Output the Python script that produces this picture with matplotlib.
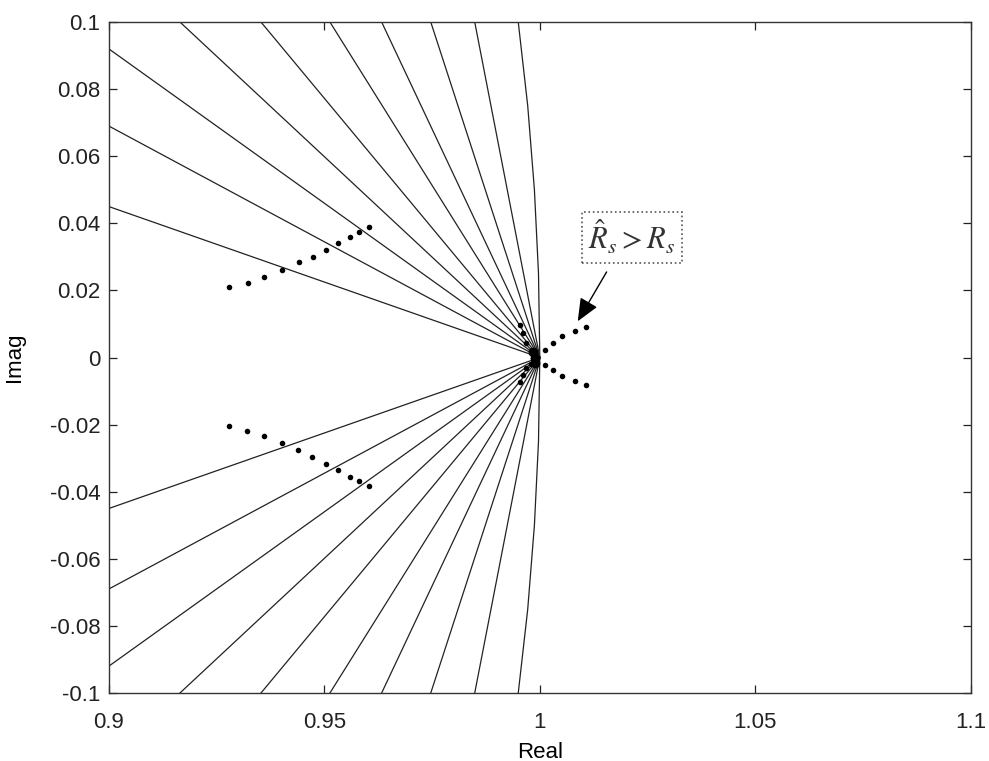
import numpy as np
import matplotlib
matplotlib.use('Agg')
import matplotlib.pyplot as plt

plt.rcParams['font.family'] = ['Liberation Sans', 'DejaVu Sans']
plt.rcParams['mathtext.fontset'] = 'stix'

# grid lines from (1,0): where each one leaves the upper half of the box
edge_x = [0.9, 0.9, 0.9, 0.9165, 0.9353, 0.9513, 0.9633, 0.9747, 0.9849]
edge_y = [0.045, 0.069, 0.092, 0.1, 0.1, 0.1, 0.1, 0.1, 0.1]
# the near-vertical one bends a little
arc_x = [1.0, 0.9997, 0.99875, 0.9972, 0.995]
arc_y = [0.0, 0.025, 0.05, 0.075, 0.1]

# dotted loci (upper / lower branches on the left)
up_x = [0.9279, 0.9322, 0.9360, 0.9402, 0.9441, 0.9473, 0.9505, 0.9531, 0.9559, 0.9581, 0.9603]
up_y = [0.0209, 0.0223, 0.0240, 0.0262, 0.0284, 0.0301, 0.0319, 0.0340, 0.0360, 0.0373, 0.0388]
lo_x = [0.9279, 0.9321, 0.9360, 0.9402, 0.9440, 0.9472, 0.9505, 0.9531, 0.9559, 0.9580, 0.9603]
lo_y = [-0.0204, -0.0218, -0.0235, -0.0255, -0.0276, -0.0296, -0.0316, -0.0336, -0.0356, -0.0369, -0.0383]

# dots close to z = 1
near_x = [0.9954, 0.9962, 0.9968, 0.9980, 0.9985, 0.9980, 0.9968, 0.9962, 0.9955]
near_y = [0.0097, 0.0072, 0.0044, 0.0020, 0.0, -0.0020, -0.0032, -0.0052, -0.0072]
right_x = [1.0012, 1.0031, 1.0052, 1.0081, 1.0108]
right_up_y = [0.0022, 0.0044, 0.0064, 0.0079, 0.0092]
right_lo_y = [-0.0022, -0.0038, -0.0055, -0.0069, -0.0082]

fig = plt.figure(figsize=(9.89, 7.61), dpi=100)
ax = fig.add_axes([0.110, 0.0893, 0.8716, 0.8818])

for ex, ey in zip(edge_x, edge_y):
    ax.plot([1.0, ex], [0.0, ey], color='#222222', lw=0.9)
    ax.plot([1.0, ex], [0.0, -ey], color='#222222', lw=0.9)
ax.plot(arc_x, arc_y, color='#222222', lw=0.9)
ax.plot(arc_x, [-v for v in arc_y], color='#222222', lw=0.9)

dot = dict(ls='none', marker='o', ms=4.0, color='black', mew=0)
ax.plot(up_x, up_y, **dot)
ax.plot(lo_x, lo_y, **dot)
ax.plot(near_x, near_y, **dot)
ax.plot(right_x, right_up_y, **dot)
ax.plot(right_x, right_lo_y, **dot)
ax.plot([0.9985, 0.9988, 0.9990], [0.0015, -0.0015, 0.0], ls='none', marker='o', ms=7, color='black', mew=0)

ax.text(1.0214, 0.0358, r'$\hat{R}_s > R_s$', fontsize=22, ha='center', va='center', color='#333333',
        bbox=dict(boxstyle='square,pad=0.2', fc='none', ec='#555555', ls=':', lw=1.2))
ax.annotate('', xy=(1.0088, 0.0108), xytext=(1.0155, 0.0255),
            arrowprops=dict(arrowstyle='-|>,head_length=0.7,head_width=0.3', color='black',
                            lw=1.0, shrinkA=0, shrinkB=0, mutation_scale=20))

ax.set_xlim(0.9, 1.1)
ax.set_ylim(-0.1, 0.1)
ax.set_xticks([0.9, 0.95, 1.0, 1.05, 1.1])
ax.set_xticklabels(['0.9', '0.95', '1', '1.05', '1.1'])
ax.set_yticks(np.round(np.arange(-0.1, 0.101, 0.02), 2))
ax.set_yticklabels(['-0.1', '-0.08', '-0.06', '-0.04', '-0.02', '0', '0.02', '0.04', '0.06', '0.08', '0.1'])
ax.tick_params(direction='in', length=6, width=0.9, top=True, right=True, labelsize=16, colors='#222222', pad=6)
ax.tick_params(axis='x', pad=14)
for s in ax.spines.values():
    s.set_linewidth(1.0)
    s.set_color('#333333')

ax.set_xlabel('Real', fontsize=16, labelpad=6)
ax.set_ylabel('Imag', fontsize=16, labelpad=18)

fig.savefig('out.png', dpi=100)
